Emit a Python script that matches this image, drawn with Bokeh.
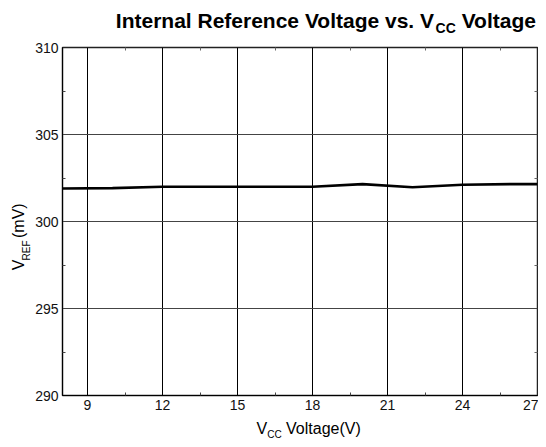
import math
from bokeh.plotting import figure
from bokeh.models import Range1d, FixedTicker, LinearAxis
from bokeh.layouts import column, row
from bokeh.core.properties import value
from bokeh.embed import file_html
from bokeh.resources import INLINE

# ---- data ----
vcc = [8, 10, 12, 14, 16, 18, 20, 22, 24, 26, 27]
vref = [301.9, 301.92, 302.0, 302.0, 302.0, 302.0, 302.15, 301.97, 302.11, 302.15, 302.15]

x_ticks = [9, 12, 15, 18, 21, 24, 27]
x_minor = [10.5, 13.5, 16.5, 19.5, 22.5, 25.5]
y_ticks = [290, 295, 300, 305, 310]
y_minor = [292.5, 297.5, 302.5, 307.5]

title_main = "Internal Reference Voltage vs. V"
title_sub = "CC"
title_tail = "Voltage"
xlab_main = "V"
xlab_sub = "CC"
xlab_tail = "Voltage(V)"
ylab_main = "V"
ylab_sub = "REF"
ylab_tail = "(mV)"

FONT = "Liberation Sans"

# Arial / Liberation Sans advance widths (per 1000 em)
REG = {' ': 278, '(': 333, ')': 333, '.': 278, 'V': 667, 'o': 556, 'l': 222, 't': 278,
       'a': 556, 'g': 556, 'e': 556, 'm': 833, 'C': 722, 'R': 722, 'E': 667, 'F': 611}
BOLD = {'I': 278, 'n': 611, 't': 333, 'e': 556, 'r': 389, 'a': 556, 'l': 278, ' ': 278,
        'R': 722, 'f': 333, 'c': 556, 'V': 667, 'o': 611, 'g': 611, 'v': 556, 's': 556,
        '.': 278, 'C': 722}


def tw(s, size, table):
    return sum(table.get(ch, 556) for ch in s) * size / 1000.0


BL = 0.375  # empirical shift between anchor and drawn baseline (em)

TOTAL_W = 538
TITLE_H = 38
MAIN_H = 378
XLAB_H = 23
YLAB_W = 32


def blank(w, h):
    f = figure(width=w, height=h, output_backend="svg", toolbar_location=None,
               x_range=Range1d(0, w), y_range=Range1d(0, h),
               min_border=0, min_border_left=0, min_border_right=0,
               min_border_top=0, min_border_bottom=0,
               x_axis_type=None, y_axis_type=None)
    f.grid.visible = False
    f.outline_line_color = None
    f.background_fill_color = "white"
    f.border_fill_color = "white"
    return f


# ---- title strip ----
tf = blank(TOTAL_W, TITLE_H)
TS, TSS = 21, 14
w_main = tw(title_main, TS, BOLD)
w_sub = tw(title_sub, TSS, BOLD)
w_sp = tw(" ", TS, BOLD)
w_tail = tw(title_tail, TS, BOLD)
tx0 = TOTAL_W - 1 - (w_main + w_sub + w_sp + w_tail)
tstyle = dict(text_font=value(FONT), text_font_style="bold", text_color="black",
              text_align="left", text_baseline="alphabetic")
tb = TITLE_H - 28
tf.text(x=[tx0], y=[tb + BL * TS], text=[title_main], text_font_size=f"{TS}px", **tstyle)
tf.text(x=[tx0 + w_main], y=[tb - 5 + BL * TSS], text=[title_sub],
        text_font_size=f"{TSS}px", **tstyle)
tf.text(x=[tx0 + w_main + w_sub + w_sp], y=[tb + BL * TS], text=[title_tail],
        text_font_size=f"{TS}px", **tstyle)

# ---- y label strip ----
LS, LSS = 16, 10
lstyle = dict(text_font=value(FONT), text_color="black",
              text_align="left", text_baseline="alphabetic")
yf = blank(YLAB_W, MAIN_H)
yb = 136
ybase = 24
yf.text(x=[ybase - BL * LS], y=[yb], text=[ylab_main], angle=math.pi / 2,
        text_font_size=f"{LS}px", **lstyle)
yf.text(x=[ybase + 5.5 - BL * LSS], y=[yb + tw(ylab_main, LS, REG)], text=[ylab_sub],
        angle=math.pi / 2, text_font_size=f"{LSS}px", **lstyle)
yf.text(x=[ybase - BL * LS],
        y=[yb + tw(ylab_main, LS, REG) + tw(ylab_sub, LSS, REG) + tw(" ", LS, REG)],
        text=[ylab_tail], angle=math.pi / 2, text_font_size=f"{LS}px", **lstyle)

# ---- main plot ----
p = figure(width=TOTAL_W - YLAB_W, height=MAIN_H, output_backend="svg", toolbar_location=None,
           x_range=Range1d(8, 27), y_range=Range1d(290, 310),
           min_border_left=29, min_border_right=1, min_border_top=9, min_border_bottom=21)

p.line(vcc, vref, line_color="black", line_width=2.6)

for ax in (p.xaxis[0], p.yaxis[0]):
    ax.axis_line_color = "black"
    ax.axis_line_width = 1
    ax.major_tick_in = 0
    ax.major_tick_out = 0
    ax.minor_tick_in = 3
    ax.minor_tick_out = 0
    ax.minor_tick_line_color = "#444444"
    ax.major_label_text_font = FONT
    ax.major_label_text_font_size = "14px"
    ax.major_label_text_color = "#111111"
    ax.major_label_standoff = 4

p.xaxis[0].ticker = FixedTicker(ticks=x_ticks, minor_ticks=x_minor)
p.yaxis[0].ticker = FixedTicker(ticks=y_ticks, minor_ticks=y_minor)

top_ax = LinearAxis(axis_line_color=None, major_tick_in=0, major_tick_out=0,
                    minor_tick_in=3, minor_tick_out=0, minor_tick_line_color="#666666",
                    ticker=FixedTicker(ticks=[], minor_ticks=x_minor))
right_ax = LinearAxis(axis_line_color=None, major_tick_in=0, major_tick_out=0,
                      minor_tick_in=3, minor_tick_out=0, minor_tick_line_color="#666666",
                      ticker=FixedTicker(ticks=[], minor_ticks=y_minor))
p.add_layout(top_ax, "above")
p.add_layout(right_ax, "right")

p.xgrid.ticker = FixedTicker(ticks=x_ticks)
p.ygrid.ticker = FixedTicker(ticks=y_ticks)
p.xgrid.grid_line_color = "black"
p.xgrid.grid_line_width = 1
p.ygrid.grid_line_color = "#444444"
p.ygrid.grid_line_width = 1

p.outline_line_color = "#222222"
p.outline_line_width = 1.5
p.background_fill_color = "white"
p.border_fill_color = "white"

# ---- x label strip ----
xf = blank(TOTAL_W, XLAB_H)
xx0 = 256
xbl = 5.5
xf.text(x=[xx0], y=[xbl + BL * LS], text=[xlab_main], text_font_size=f"{LS}px", **lstyle)
xf.text(x=[xx0 + tw(xlab_main, LS, REG)], y=[xbl - 4 + BL * LSS], text=[xlab_sub],
        text_font_size=f"{LSS}px", **lstyle)
xf.text(x=[xx0 + tw(xlab_main, LS, REG) + tw(xlab_sub, LSS, REG) + tw(" ", LS, REG)],
        y=[xbl + BL * LS], text=[xlab_tail], text_font_size=f"{LS}px", **lstyle)

layout = column(tf, row(yf, p, spacing=0), xf, spacing=0)

open("out.html", "w").write(file_html(layout, INLINE))
